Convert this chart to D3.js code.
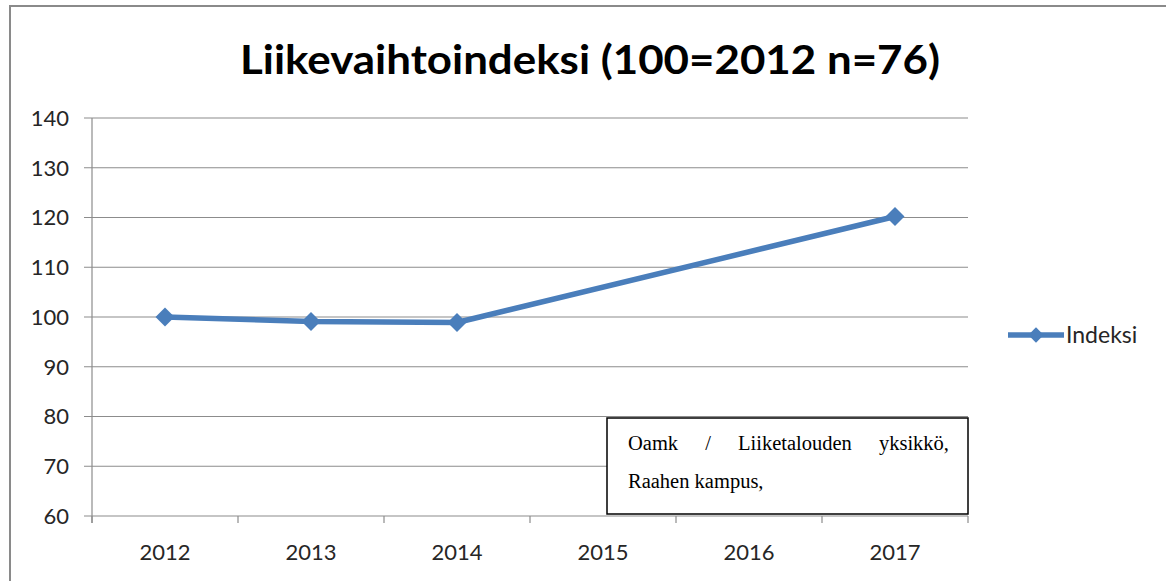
<!DOCTYPE html>
<html><head><meta charset="utf-8">
<script src="https://cdn.jsdelivr.net/npm/d3@7"></script>
<style>body{margin:0;background:#fff}svg{display:block}</style>
</head><body>
<script>
const titleText = "Liikevaihtoindeksi (100=2012 n=76)";
const categories = ["2012","2013","2014","2015","2016","2017"];
const values = [100, 99.1, 98.9, null, null, 120.2];
const yTicks = [60,70,80,90,100,110,120,130,140];
const seriesName = "Indeksi";
const noteLines = ["Oamk / Liiketalouden yksikkö,", "Raahen kampus,"];

const W = 1166, H = 581;
const svg = d3.select("body").append("svg").attr("width", W).attr("height", H);
const font = "Lato, 'Open Sans', sans-serif";
const blue = "#4a7ebb";

// outer frame
svg.append("path").attr("d", `M10,${H+5} L10,6 L${W+5},6`).attr("fill","none").attr("stroke","#8a8a8a").attr("stroke-width",2);

const plot = {l:92, r:968, t:118, b:516};
const x = d3.scaleBand().domain(categories).range([plot.l, plot.r]);
const y = d3.scaleLinear().domain([60,140]).range([plot.b, plot.t]);

// gridlines
svg.append("g").selectAll("line").data(yTicks).join("line")
  .attr("x1", plot.l-8).attr("x2", plot.r).attr("y1", d=>y(d)).attr("y2", d=>y(d))
  .attr("stroke","#8c8c8c").attr("stroke-width",1.2);
// y axis line
svg.append("line").attr("x1",plot.l).attr("x2",plot.l).attr("y1",plot.t).attr("y2",plot.b+7)
  .attr("stroke","#8c8c8c").attr("stroke-width",1.2);
// x ticks
const xb = categories.map(c=>x(c)).concat([plot.r]);
svg.append("g").selectAll("line").data(xb).join("line")
  .attr("x1",d=>d).attr("x2",d=>d).attr("y1",plot.b).attr("y2",plot.b+7)
  .attr("stroke","#8c8c8c").attr("stroke-width",1.2);

// y labels
svg.append("g").selectAll("text").data(yTicks).join("text")
  .attr("x", 69).attr("y", d=>y(d)).attr("dy","0.36em").attr("text-anchor","end")
  .attr("font-family",font).attr("font-size",22).attr("fill","#262626").text(d=>d);
// x labels
svg.append("g").selectAll("text").data(categories).join("text")
  .attr("x", d=>x(d)+x.bandwidth()/2).attr("y", 560).attr("text-anchor","middle")
  .attr("font-family",font).attr("font-size",22).attr("fill","#262626").text(d=>d);

// title
svg.append("text").attr("x",590).attr("y",74).attr("text-anchor","middle")
  .attr("font-family",font).attr("font-weight","bold").attr("font-size",40).attr("fill","#000")
  .attr("textLength",700).attr("lengthAdjust","spacingAndGlyphs").text(titleText);

// line
const pts = categories.map((c,i)=>({c, v: values[i]})).filter(d=>d.v!=null);
const line = d3.line().x(d=>x(d.c)+x.bandwidth()/2).y(d=>y(d.v));
svg.append("path").datum(pts).attr("d", line).attr("fill","none").attr("stroke",blue)
  .attr("stroke-width",5.5).attr("stroke-linejoin","round");
const diamond = d3.symbol().type(d3.symbolDiamond2).size(230);
svg.append("g").selectAll("path").data(pts).join("path")
  .attr("transform", d=>`translate(${x(d.c)+x.bandwidth()/2},${y(d.v)})`)
  .attr("d", diamond).attr("fill",blue);

// note box
svg.append("rect").attr("x",607).attr("y",418).attr("width",361).attr("height",96)
  .attr("fill","#fff").attr("stroke","#000").attr("stroke-width",1.5);
const w1 = noteLines[0].split(" ");
const x0 = 628, x1 = 949;
const g1 = svg.append("g").attr("font-family","'Liberation Serif', serif").attr("font-size",20.5).attr("fill","#000");
const tmp = g1.selectAll("text.w").data(w1).join("text").attr("class","w").attr("y",450).text(d=>d);
const widths = [];
tmp.each(function(){ widths.push(this.getComputedTextLength()); });
const total = d3.sum(widths);
const gap = (x1-x0-total)/(w1.length-1);
let cx = x0;
tmp.each(function(d,i){ d3.select(this).attr("x", cx); cx += widths[i] + gap; });
g1.append("text").attr("x",x0).attr("y",488).text(noteLines[1]);

// legend
svg.append("line").attr("x1",1008).attr("x2",1064).attr("y1",335).attr("y2",335).attr("stroke",blue).attr("stroke-width",5.5);
svg.append("path").attr("transform","translate(1036,335)").attr("d",d3.symbol().type(d3.symbolDiamond2).size(150)).attr("fill",blue);
svg.append("text").attr("x",1066).attr("y",335).attr("dy","0.36em").attr("font-family",font)
  .attr("font-size",23).attr("fill","#262626").text(seriesName);
</script>
</body></html>
